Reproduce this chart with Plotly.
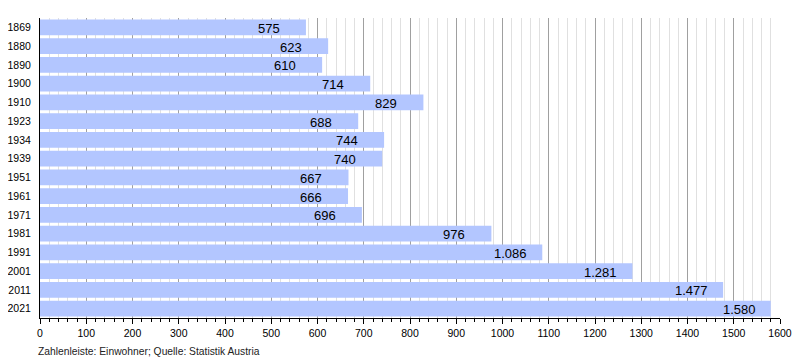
import plotly.graph_objects as go

years = ["1869", "1880", "1890", "1900", "1910", "1923", "1934", "1939",
         "1951", "1961", "1971", "1981", "1991", "2001", "2011", "2021"]
population = [575, 623, 610, 714, 829, 688, 744, 740,
              667, 666, 696, 976, 1086, 1281, 1477, 1580]
tick_values = list(range(0, 1700, 100))


def fmt(v):
    return f"{v:,}".replace(",", ".")


labels = [fmt(v) for v in population]
positions = list(range(len(years)))

fig = go.Figure()
fig.add_trace(go.Bar(
    x=population, y=positions, orientation="h",
    marker=dict(color="#b3c6ff", line=dict(width=0)),
    width=0.84, hoverinfo="skip",
))

for i, v, t in zip(positions, population, labels):
    fig.add_annotation(x=v, y=i, text=t, showarrow=False, xanchor="left",
                       xshift=-50, yshift=-1,
                       font=dict(family="Liberation Sans, Arial", size=13, color="black"))

fig.add_annotation(xref="paper", yref="paper", x=-0.005, y=-0.085,
                   xanchor="left", yanchor="top", showarrow=False,
                   text="Zahlenleiste: Einwohner; Quelle: Statistik Austria",
                   font=dict(family="Liberation Sans, Arial", size=10.3, color="#222"))

fig.update_layout(
    width=800, height=360,
    margin=dict(l=32, r=28, t=10, b=50),
    paper_bgcolor="white", plot_bgcolor="white",
    showlegend=False,
    font=dict(family="Liberation Sans, Arial", size=10.5, color="black"),
    xaxis=dict(
        range=[0, 1600], tickvals=tick_values, showgrid=True,
        gridcolor="#a0a0a0", gridwidth=1, zeroline=False,
        showline=True, linecolor="black", linewidth=1,
        ticks="outside", ticklen=5, tickcolor="black",
        minor=dict(dtick=20, showgrid=True, gridcolor="#e0e0e0",
                   ticks="outside", ticklen=3, tickcolor="black"),
        tickfont=dict(size=10.5), fixedrange=True, automargin=False,
    ),
    yaxis=dict(
        range=[len(years) - 0.5, -0.5], tickvals=positions, ticktext=years,
        showgrid=False, zeroline=False,
        showline=True, linecolor="black", linewidth=1,
        ticks="", ticklabelstandoff=6, tickfont=dict(size=10.5),
        fixedrange=True, automargin=False,
    ),
)

fig.write_html("out.html")
